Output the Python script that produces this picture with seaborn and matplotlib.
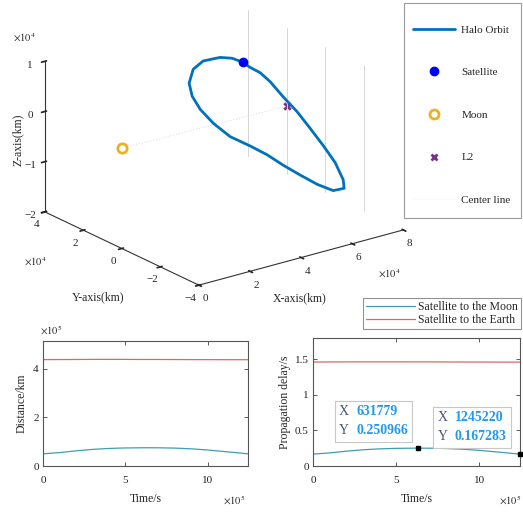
import numpy as np
import pandas as pd
import matplotlib
matplotlib.use("Agg")
import matplotlib.pyplot as plt
from matplotlib.lines import Line2D
from matplotlib.patches import Rectangle
from matplotlib.offsetbox import AnnotationBbox, HPacker, TextArea
import seaborn as sns

sns.set_theme(style="white")
plt.rcParams["font.family"] = ["Liberation Serif", "DejaVu Serif"]
plt.rcParams["mathtext.fontset"] = "stix"

# ---------------- orbit geometry (units of 1e4 km, Moon-centred frame) ----------------
orbit_x = [4.55, 4.62, 4.75, 4.95, 5.25, 5.60, 5.95, 6.30, 6.65, 6.95, 7.10, 7.05, 6.90,
           6.70, 6.45, 6.20, 5.95, 5.65, 5.35, 5.10, 4.90, 4.72, 4.60, 4.52, 4.50, 4.52]
orbit_y = [-0.26, -0.53, -0.88, -1.13, -1.40, -1.67, -1.88, -2.09, -2.25, -2.27, -2.12, -1.62,
           -0.99, -0.37, 0.18, 0.68, 1.23, 1.87, 2.35, 2.70, 2.85, 2.77, 2.40, 1.78, 0.87, 0.27]
orbit_z = [1.13, 1.07, 1.01, 0.85, 0.56, 0.26, -0.08, -0.43, -0.79, -1.17, -1.39, -1.52,
           -1.49, -1.39, -1.26, -1.11, -1.00, -0.89, -0.67, -0.42, -0.16, 0.14, 0.50, 0.79,
           1.03, 1.12]
satellite_xyz = [4.55, -0.26, 1.13]
moon_xyz = [0.0, 0.0, 0.0]
l2_xyz = [6.45, 0.0, -0.05]
guide_y = [2.0, 0.0, -2.0, -4.0]
guide_z = [-1.4, 1.5]

# ---------------- propagation over one orbit period ----------------
time_s = [0, 1.0e5, 2.0e5, 3.0e5, 4.0e5, 5.0e5, 6.0e5, 631779, 7.0e5, 8.0e5,
          9.0e5, 10.0e5, 11.0e5, 12.0e5, 1245220]
delay_moon_s = [0.167283, 0.184, 0.208, 0.228, 0.241, 0.248, 0.2505, 0.250966, 0.2502,
                0.246, 0.236, 0.220, 0.199, 0.177, 0.167283]
delay_earth_s = [1.462, 1.463, 1.464, 1.465, 1.465, 1.465, 1.464, 1.464, 1.464, 1.463,
                 1.462, 1.462, 1.461, 1.461, 1.461]
tip_time = [631779, 1245220]
tip_delay = [0.250966, 0.167283]
tip_text_x = ["631779", "1245220"]
tip_text_y = ["0.250966", "0.167283"]

LIGHT_SPEED = 299792.458  # km/s
df = pd.DataFrame({"t": time_s, "moon": delay_moon_s, "earth": delay_earth_s})
df["moon_km"] = df["moon"] * LIGHT_SPEED
df["earth_km"] = df["earth"] * LIGHT_SPEED

C_ORBIT = "#0072BD"
C_MOON_LINE = "#3f9fb0"
C_EARTH_LINE = "#e06666"
TICK_FS = 8
W, H = 523, 513

fig = plt.figure(figsize=(5.23, 5.13), dpi=100)

# ---------------- 3-D orbit view ----------------
ax3 = fig.add_axes([-0.0775, 0.331, 0.992, 0.750], projection="3d")
ax3.patch.set_alpha(0)
ax3.set_proj_type("ortho")
ax3.view_init(elev=21, azim=-127)
ax3.set_box_aspect((1, 1, 0.63))
ax3.set_xlim(0, 8)
ax3.set_ylim(-4, 4)
ax3.set_zlim(-2, 1)
ax3.set_xticks([0, 2, 4, 6, 8])
ax3.set_yticks([-4, -2, 0, 2, 4])
ax3.set_zticks([-2, -1, 0, 1])
ax3.grid(False)
for a in (ax3.xaxis, ax3.yaxis, ax3.zaxis):
    a.set_pane_color((1, 1, 1, 0))
    a.pane.set_edgecolor((1, 1, 1, 0))
    a.line.set_color("#333333")
    a.line.set_linewidth(0.8)
ax3.tick_params(labelsize=TICK_FS, pad=-2)

for gy in guide_y:
    ax3.plot([l2_xyz[0], l2_xyz[0]], [gy, gy], guide_z, color="#d6d6d6", lw=0.7)
ax3.plot([moon_xyz[0], l2_xyz[0]], [moon_xyz[1], l2_xyz[1]], [moon_xyz[2], l2_xyz[2]],
         color="#e2e2e2", lw=0.8, ls=":")
ax3.plot(orbit_x + orbit_x[:1], orbit_y + orbit_y[:1], orbit_z + orbit_z[:1],
         color=C_ORBIT, lw=2.0, solid_joinstyle="round")
ax3.scatter([satellite_xyz[0]], [satellite_xyz[1]], [satellite_xyz[2]], color="#0000ff",
            s=36, depthshade=False)
ax3.scatter([moon_xyz[0]], [moon_xyz[1]], [moon_xyz[2]], facecolors="white",
            edgecolors="#EDB120", s=45, linewidths=2.0, depthshade=False)
ax3.scatter([l2_xyz[0]], [l2_xyz[1]], [l2_xyz[2]], color="#7E2F8E", marker="x",
            s=22, linewidths=2.0, depthshade=False)

fig.text(18 / W, 1 - 140 / H, "Z-axis(km)", rotation=90, ha="center", va="center", fontsize=8.5)
fig.text(98 / W, 1 - 297 / H, "Y-axis(km)", ha="center", va="center", fontsize=8.5)
fig.text(300 / W, 1 - 298 / H, "X-axis(km)", ha="center", va="center", fontsize=8.5)
fig.text(24 / W, 1 - 38 / H, r"$\times10^4$", ha="center", va="center", fontsize=7.5)
fig.text(35 / W, 1 - 262 / H, r"$\times10^4$", ha="center", va="center", fontsize=7.5)
fig.text(389 / W, 1 - 274 / H, r"$\times10^4$", ha="center", va="center", fontsize=7.5)

# legend of the 3-D view in its own tall frame
fig.add_artist(Rectangle((404 / W, 1 - 218 / H), (521 - 404) / W, 215 / H,
                         transform=fig.transFigure, facecolor="white",
                         edgecolor="#9a9a9a", lw=0.8, zorder=4))
handles3 = [
    Line2D([], [], color=C_ORBIT, lw=2.0),
    Line2D([], [], color="#0000ff", marker="o", ls="none", markersize=6),
    Line2D([], [], color="#EDB120", marker="o", markerfacecolor="white", ls="none",
           markersize=6.5, markeredgewidth=2.0),
    Line2D([], [], color="#7E2F8E", marker="x", ls="none", markersize=4.5, markeredgewidth=2.0),
    Line2D([], [], color="#f2f2f2", lw=0.8, ls=":"),
]
labels3 = ["Halo Orbit", "Satellite", "Moon", "L2", "Center line"]
leg3 = fig.legend(handles3, labels3, loc="upper left",
                  bbox_to_anchor=(413 / W, 1 - 25 / H), fontsize=8, borderaxespad=0,
                  labelspacing=2.95, borderpad=0, handlelength=3.8,
                  handletextpad=0.55, frameon=False)
leg3.set_zorder(5)

# ---------------- distance and delay panels ----------------
axL = fig.add_axes([43 / W, 1 - 466 / H, 205 / W, 125 / H])
axR = fig.add_axes([313 / W, 1 - 466 / H, 207 / W, 128 / H])

sns.lineplot(data=df, x="t", y="moon_km", ax=axL, color=C_MOON_LINE, lw=0.9)
sns.lineplot(data=df, x="t", y="earth_km", ax=axL, color=C_EARTH_LINE, lw=0.9)
sns.lineplot(data=df, x="t", y="moon", ax=axR, color=C_MOON_LINE, lw=0.9,
             label="Satellite to the Moon", legend=False)
sns.lineplot(data=df, x="t", y="earth", ax=axR, color=C_EARTH_LINE, lw=0.9,
             label="Satellite to the Earth", legend=False)

t_end = time_s[-1]
axL.set_xlim(0, t_end)
axL.set_ylim(0, 5.15e5)
axL.set_yticks([0, 2e5, 4e5])
axL.set_yticklabels(["0", "2", "4"])
axR.set_xlim(0, t_end)
axR.set_ylim(0, 1.8)
axR.set_yticks([0, 0.5, 1, 1.5])
axR.set_yticklabels(["0", "0.5", "1", "1.5"])
for ax in (axL, axR):
    ax.set_xticks([0, 5e5, 10e5])
    ax.set_xticklabels(["0", "5", "10"])
    ax.tick_params(direction="in", length=3, width=0.6, labelsize=TICK_FS,
                   top=True, right=True, bottom=True, left=True, colors="#404040",
                   labelcolor="#222222", pad=3)
    ax.tick_params(axis="x", pad=7)
    for sp in ax.spines.values():
        sp.set_visible(True)
        sp.set_color("#555555")
        sp.set_linewidth(0.8)
    ax.set_xlabel("Time/s", fontsize=8.5, labelpad=6)
axL.set_ylabel("Distance/km", fontsize=8.5, labelpad=4)
axR.set_ylabel("Propagation delay/s", fontsize=8.5, labelpad=3)

fig.text(51 / W, 1 - 330 / H, r"$\times10^5$", ha="center", va="center", fontsize=7.5)
fig.text(234 / W, 1 - 500 / H, r"$\times10^5$", ha="center", va="center", fontsize=7.5)
fig.text(510 / W, 1 - 500 / H, r"$\times10^5$", ha="center", va="center", fontsize=7.5)

# data tips: black marker plus a boxed X/Y readout
PX = 72 / 100  # points per pixel
TIP_PAD = 0.6   # frame padding, fraction of the 11 pt annotation font size
pad_px = TIP_PAD * 11 / PX
tip_offsets = [(-(1 + pad_px) * PX, (2 + pad_px) * PX), (-(4 + pad_px) * PX, (2 + pad_px) * PX)]
for tx, ty, sx, sy, off in zip(tip_time, tip_delay, tip_text_x, tip_text_y, tip_offsets):
    axR.plot([tx], [ty], marker="s", color="black", markersize=3.5, clip_on=False, zorder=6)
    names = TextArea("X\nY", textprops=dict(fontsize=10, color="#4a5570", linespacing=1.55))
    vals = TextArea(f"{sx}\n{sy}", textprops=dict(fontsize=10, color="#2299ee",
                                                   fontweight="bold", linespacing=1.55))
    pack = HPacker(children=[names, vals], align="baseline", pad=0, sep=5)
    ab = AnnotationBbox(pack, (tx, ty), xybox=off, xycoords="data", fontsize=11,
                        boxcoords="offset points", box_alignment=(1, 0), pad=TIP_PAD,
                        frameon=True, annotation_clip=False,
                        bboxprops=dict(boxstyle="square", fc="white", ec="#c8c8c8", lw=0.8))
    axR.add_artist(ab)

hL, lL = axR.get_legend_handles_labels()
legB = fig.legend(hL, lL, loc="upper right", bbox_to_anchor=(521 / W, 1 - 298 / H),
                  fontsize=8.5, labelspacing=0.1, borderpad=0.25, handlelength=4.1,
                  handletextpad=0.3, borderaxespad=0, frameon=True, fancybox=False,
                  edgecolor="#777777")
legB.get_frame().set_linewidth(0.8)

fig.savefig("out.png", dpi=100, facecolor="white")
